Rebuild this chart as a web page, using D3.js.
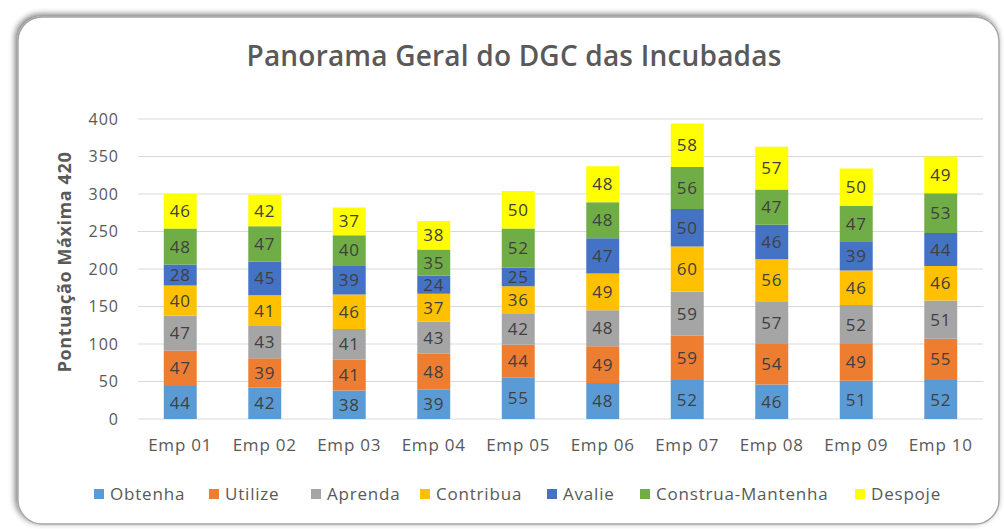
<html>
<head>
	<title>Panorama Geral do DGC</title>
	<style>
		body { margin: 0; background: #ffffff; }
		text { font-family: "Open Sans", "Noto Sans", sans-serif; }
	</style>
</head>
<body>
<div id="chart"></div>
<script src="https://cdnjs.cloudflare.com/ajax/libs/d3/7.8.5/d3.min.js"></script>
<script>

	// data
	var empresas = ['Emp 01','Emp 02','Emp 03','Emp 04','Emp 05','Emp 06','Emp 07','Emp 08','Emp 09','Emp 10'];
	var series = ['Obtenha','Utilize','Aprenda','Contribua','Avalie','Construa-Mantenha','Despoje'];
	var obtenha   = [44,42,38,39,55,48,52,46,51,52];
	var utilize   = [47,39,41,48,44,49,59,54,49,55];
	var aprenda   = [47,43,41,43,42,48,59,57,52,51];
	var contribua = [40,41,46,37,36,49,60,56,46,46];
	var avalie    = [28,45,39,24,25,47,50,46,39,44];
	var construa  = [48,47,40,35,52,48,56,47,47,53];
	var despoje   = [46,42,37,38,50,48,58,57,50,49];
	var yTicks = [0,50,100,150,200,250,300,350,400];

	var colors = ['#5B9BD5','#ED7D31','#A5A5A5','#FFC000','#4472C4','#70AD47','#FFFF00'];
	var valuesBySeries = [obtenha, utilize, aprenda, contribua, avalie, construa, despoje];

	//build rows for d3.stack
	var rows = empresas.map(function(e, i){
		var r = {emp: e};
		series.forEach(function(s, j){ r[s] = valuesBySeries[j][i]; });
		return r;
	});

	var width = 1004, height = 529;
	var svg = d3.select('#chart').append('svg')
		.attr('width', width).attr('height', height);

	//card shadow
	var defs = svg.append('defs');
	var f = defs.append('filter').attr('id','shadow')
		.attr('x','-5%').attr('y','-5%').attr('width','110%').attr('height','110%');
	f.append('feGaussianBlur').attr('in','SourceAlpha').attr('stdDeviation',3);
	f.append('feOffset').attr('dx',-2).attr('dy',-2).attr('result','b');
	f.append('feComponentTransfer').append('feFuncA').attr('type','linear').attr('slope',0.55);
	var m = f.append('feMerge');
	m.append('feMergeNode');
	m.append('feMergeNode').attr('in','SourceGraphic');

	svg.append('rect')
		.attr('x',18).attr('y',17).attr('width',981).attr('height',507)
		.attr('rx',24).attr('ry',24)
		.attr('fill','white').attr('stroke','#a6a6a6').attr('stroke-width',1.5)
		.attr('filter','url(#shadow)');

	var margin = {left: 138, right: 21, top: 119, bottom: 110};
	var x = d3.scaleBand().domain(empresas)
		.range([margin.left, width - margin.right])
		.paddingInner(0.61).paddingOuter(0.305);
	var y = d3.scaleLinear().domain([0,400]).range([419,119]);

	//gridlines
	svg.append('g').selectAll('line')
		.data(yTicks).enter().append('line')
		.attr('x1', margin.left).attr('x2', width - margin.right)
		.attr('y1', function(d){ return y(d); })
		.attr('y2', function(d){ return y(d); })
		.attr('stroke','#d9d9d9').attr('stroke-width',1);

	//y axis labels
	var yAxis = svg.append('g')
		.attr('transform','translate(' + (margin.left - 19) + ',0)')
		.call(d3.axisLeft(y).tickValues(yTicks).tickSize(0).tickPadding(0));
	yAxis.select('.domain').remove();
	yAxis.selectAll('text')
		.attr('font-size',16).attr('fill','#595959')
		.style('letter-spacing','1px')
		.style('font-family','"Open Sans", sans-serif');

	//x axis labels
	var xAxis = svg.append('g')
		.attr('transform','translate(0,' + 439 + ')')
		.call(d3.axisBottom(x).tickSize(0).tickPadding(0));
	xAxis.select('.domain').remove();
	xAxis.selectAll('text')
		.attr('font-size',17).attr('fill','#595959')
		.style('letter-spacing','0.8px')
		.style('font-family','"Open Sans", sans-serif');

	//stacked bars
	var stack = d3.stack().keys(series)(rows);
	var layers = svg.append('g').selectAll('g')
		.data(stack).enter().append('g')
		.attr('fill', function(d, i){ return colors[i]; });

	layers.selectAll('rect')
		.data(function(d){ return d; }).enter().append('rect')
		.attr('x', function(d){ return x(d.data.emp); })
		.attr('width', x.bandwidth())
		.attr('y', function(d){ return y(d[1]); })
		.attr('height', function(d){ return y(d[0]) - y(d[1]); });

	layers.selectAll('text')
		.data(function(d){ return d; }).enter().append('text')
		.attr('x', function(d){ return x(d.data.emp) + x.bandwidth()/2; })
		.attr('y', function(d){ return (y(d[0]) + y(d[1]))/2; })
		.attr('dy','0.36em')
		.attr('text-anchor','middle')
		.attr('font-size',17)
		.style('letter-spacing','0.8px')
		.attr('fill','#404040')
		.text(function(d){ return d[1] - d[0]; });

	//title
	svg.append('text')
		.attr('x', 514).attr('y', 66)
		.attr('text-anchor','middle')
		.attr('font-size',28).attr('font-weight',600)
		.style('letter-spacing','0.2px')
		.attr('fill','#595959')
		.text('Panorama Geral do DGC das Incubadas');

	//y axis title
	svg.append('text')
		.attr('transform','translate(71,262) rotate(-90)')
		.attr('text-anchor','middle')
		.attr('font-size',18).attr('font-weight',700)
		.style('letter-spacing','0.6px')
		.attr('fill','#595959')
		.text('Pontuação Máxima 420');

	//legend
	var legendX = [94, 209, 311, 420, 547, 640, 855];
	var legend = svg.append('g').selectAll('g')
		.data(series).enter().append('g')
		.attr('transform', function(d, i){ return 'translate(' + legendX[i] + ',494)'; });
	legend.append('rect')
		.attr('x',0).attr('y',-5).attr('width',10).attr('height',10)
		.attr('fill', function(d, i){ return colors[i]; });
	legend.append('text')
		.attr('x',16).attr('y',0).attr('dy','0.35em')
		.attr('font-size',17).attr('fill','#595959')
		.style('letter-spacing','0.8px')
		.text(function(d){ return d; });

</script>
</body>
</html>
